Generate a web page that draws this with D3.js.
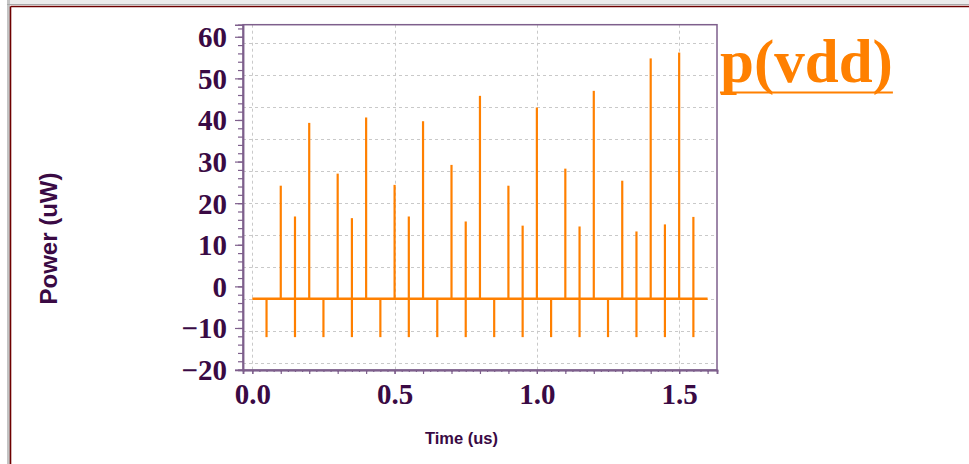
<!DOCTYPE html>
<html>
<head>
<meta charset="utf-8">
<script src="https://cdn.jsdelivr.net/npm/d3@7"></script>
<style>
  html, body { margin: 0; padding: 0; background: #fff; }
  svg { display: block; }
</style>
</head>
<body>
<svg id="chart" width="969" height="464"></svg>
<script>
// Main clock-edge pulses (every 0.1 us) and their peak power
const mainTimes = [0.1, 0.2, 0.3, 0.4, 0.5, 0.6, 0.7, 0.8, 0.9, 1.0, 1.1, 1.2, 1.3, 1.4, 1.5];
const mainPeaks = [24.2, 39.3, 27.1, 40.6, 24.4, 39.7, 29.2, 45.8, 24.2, 43.0, 28.3, 47.0, 25.4, 54.8, 56.2];

// Half-cycle events: every one dips negative, some also spike upward
const halfTimes = [0.05, 0.15, 0.25, 0.35, 0.45, 0.55, 0.65, 0.75, 0.85, 0.95, 1.05, 1.15, 1.25, 1.35, 1.45, 1.55];
const halfPeaks = [null, 16.8, null, 16.4, null, 16.8, null, 15.6, null, 14.6, null, 14.4, null, 13.2, 14.9, 16.7];
const halfDips  = [-12.2, -12.2, -12.2, -12.2, -12.2, -12.2, -12.2, -12.2, -12.2, -12.2, -12.2, -12.2, -12.2, -12.2, -12.2, -12.2];

// Static (leakage) level and the time span of the trace
const baseLevel = -3.0;
const traceSpan = [0, 1.6];

// Axis ticks and labels
const yMajorTicks = [-20, -10, 0, 10, 20, 30, 40, 50, 60];
const xMajorTicks = [0.0, 0.5, 1.0, 1.5];
const xTickLabels = ["0.0", "0.5", "1.0", "1.5"];
const gridY = [58.6, 50.9, 43.2, 35.5, 27.8, 20.1, 12.4, 4.7, -3.0, -10.7, -18.4];

const traceName = "p(vdd)";
const xTitle = "Time (us)";
const yTitle = "Power (uW)";

const W = 969, H = 464;
const plot = { left: 243, right: 717, top: 24.7, bottom: 370 };
const traceColor = "#ff8000";
const labelColor = "#3a0a44";
const frameColor = "#7e5f8c";

const svg = d3.select("#chart");

// window border
svg.append("rect").attr("x", 7).attr("y", 0).attr("width", W - 7).attr("height", 4).attr("fill", "#ececec");
svg.append("rect").attr("x", 7).attr("y", 0).attr("width", 3).attr("height", H).attr("fill", "#c4c4c4");
svg.append("line").attr("x1", 7).attr("x2", W).attr("y1", 4.5).attr("y2", 4.5).attr("stroke", "#a8a8a8").attr("stroke-width", 1);
svg.append("line").attr("x1", 10.5).attr("x2", W).attr("y1", 6.5).attr("y2", 6.5).attr("stroke", "#6e0000").attr("stroke-width", 1.6);
svg.append("line").attr("x1", 10.5).attr("x2", 10.5).attr("y1", 6.5).attr("y2", H).attr("stroke", "#6e0000").attr("stroke-width", 1.6);

const x = d3.scaleLinear().domain([-0.0327, 1.633]).range([plot.left, plot.right]);
const y = d3.scaleLinear().domain([-20.1, 62.9]).range([plot.bottom, plot.top]);

// grid
const grid = svg.append("g").attr("stroke", "#c9c9c9").attr("stroke-width", 1).attr("stroke-dasharray", "3,3");
grid.selectAll("line.h").data(gridY).join("line")
  .attr("x1", plot.left).attr("x2", plot.right)
  .attr("y1", d => Math.round(y(d)) + 0.5).attr("y2", d => Math.round(y(d)) + 0.5);
grid.selectAll("line.v").data(xMajorTicks).join("line")
  .attr("y1", plot.top).attr("y2", plot.bottom)
  .attr("x1", d => Math.round(x(d)) + 0.5).attr("x2", d => Math.round(x(d)) + 0.5);

// plot frame
svg.append("rect")
  .attr("x", plot.left).attr("y", plot.top)
  .attr("width", plot.right - plot.left).attr("height", plot.bottom - plot.top)
  .attr("fill", "none").attr("stroke", frameColor).attr("stroke-width", 1.5);

// y axis: minor then major ticks
const yMinor = d3.range(-20, 63, 2);
const yAxisMinor = d3.axisLeft(y).tickValues(yMinor).tickSize(5).tickFormat("");
const yAxisMajor = d3.axisLeft(y).tickValues(yMajorTicks).tickSize(8).tickPadding(10).tickFormat(d3.format("d"));
const gyMin = svg.append("g").attr("transform", `translate(${plot.left},0)`).call(yAxisMinor);
const gyMaj = svg.append("g").attr("transform", `translate(${plot.left},0)`).call(yAxisMajor);
[gyMin, gyMaj].forEach(g => {
  g.select(".domain").attr("stroke", frameColor).attr("stroke-width", 1.5);
  g.selectAll(".tick line").attr("stroke", frameColor).attr("stroke-width", 1.2);
});
gyMaj.selectAll(".tick text")
  .attr("fill", labelColor)
  .style("font-family", "'Liberation Serif', 'Times New Roman', serif")
  .style("font-weight", "bold").style("font-size", "29px")
  .attr("x", -16).attr("dy", "0.34em");

// x axis
const xMinor = d3.range(0, 1.601, 0.025);
const xAxisMinor = d3.axisBottom(x).tickValues(xMinor).tickSize(2).tickFormat("");
const xAxisMid = d3.axisBottom(x).tickValues(d3.range(0, 1.601, 0.1)).tickSize(4).tickFormat("");
const xAxisMajor = d3.axisBottom(x).tickValues(xMajorTicks).tickSize(4).tickPadding(10)
  .tickFormat((d, i) => xTickLabels[i]);
const gxMin = svg.append("g").attr("transform", `translate(0,${plot.bottom})`).call(xAxisMinor);
const gxMid = svg.append("g").attr("transform", `translate(0,${plot.bottom})`).call(xAxisMid);
const gxMaj = svg.append("g").attr("transform", `translate(0,${plot.bottom})`).call(xAxisMajor);
[gxMin, gxMid, gxMaj].forEach(g => {
  g.select(".domain").attr("stroke", frameColor).attr("stroke-width", 1.5);
  g.selectAll(".tick line").attr("stroke", frameColor).attr("stroke-width", 1.2);
});
gxMaj.selectAll(".tick text")
  .attr("fill", labelColor)
  .style("font-family", "'Liberation Serif', 'Times New Roman', serif")
  .style("font-weight", "bold").style("font-size", "29px")
  .attr("y", 33.5).attr("dy", 0);

// trace
const trace = svg.append("g").attr("stroke", traceColor).attr("fill", "none");
trace.append("line")
  .attr("x1", x(traceSpan[0])).attr("x2", x(traceSpan[1]))
  .attr("y1", y(baseLevel)).attr("y2", y(baseLevel))
  .attr("stroke-width", 2.5);
trace.selectAll("line.main").data(mainTimes).join("line").attr("class", "main")
  .attr("x1", d => x(d)).attr("x2", d => x(d))
  .attr("y1", y(baseLevel)).attr("y2", (d, i) => y(mainPeaks[i]))
  .attr("stroke-width", 2.2);
const halfUp = halfTimes.map((t, i) => ({ t, v: halfPeaks[i] })).filter(d => d.v !== null);
trace.selectAll("line.up").data(halfUp).join("line").attr("class", "up")
  .attr("x1", d => x(d.t)).attr("x2", d => x(d.t))
  .attr("y1", y(baseLevel)).attr("y2", d => y(d.v))
  .attr("stroke-width", 2.2);
trace.selectAll("line.dn").data(halfTimes).join("line").attr("class", "dn")
  .attr("x1", d => x(d)).attr("x2", d => x(d))
  .attr("y1", y(baseLevel)).attr("y2", (d, i) => y(halfDips[i]))
  .attr("stroke-width", 2.2);

// trace legend
const leg = svg.append("text")
  .attr("x", 720).attr("y", 82)
  .attr("fill", traceColor)
  .style("font-family", "'Liberation Serif', 'Times New Roman', serif")
  .style("font-weight", "bold").style("font-size", "61px")
  .text(traceName);
const lw = leg.node().getComputedTextLength();
svg.append("line")
  .attr("x1", 720).attr("x2", 720 + lw)
  .attr("y1", 92.5).attr("y2", 92.5)
  .attr("stroke", traceColor).attr("stroke-width", 2.2);

// axis titles
svg.append("text")
  .attr("x", 461.5).attr("y", 443.5)
  .attr("text-anchor", "middle").attr("fill", labelColor)
  .style("font-family", "'Liberation Sans', Arial, sans-serif")
  .style("font-weight", "bold").style("font-size", "16.5px")
  .text(xTitle);
svg.append("text")
  .attr("transform", "translate(57,238.5) rotate(-90)")
  .attr("text-anchor", "middle").attr("fill", labelColor)
  .style("font-family", "'Liberation Sans', Arial, sans-serif")
  .style("font-weight", "bold").style("font-size", "24px")
  .text(yTitle);
</script>
</body>
</html>
